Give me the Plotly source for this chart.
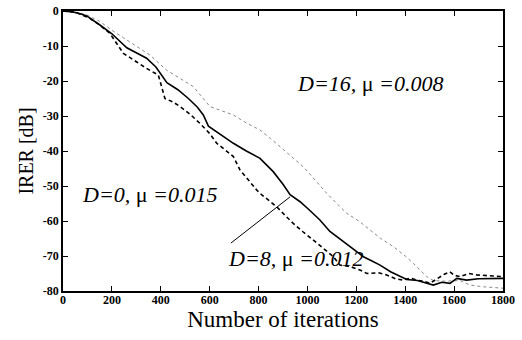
import plotly.graph_objects as go

# D=8, mu=0.012 (solid)
x_d8 = [0, 40, 70, 97, 151, 200, 261, 300, 342, 380, 410, 425, 470, 513, 550, 574, 595, 650, 697, 750,
        806, 860, 900, 929, 970, 1010, 1051, 1092, 1130, 1174, 1229, 1260, 1297, 1340, 1379, 1406, 1450,
        1488, 1515, 1550, 1583, 1611, 1651, 1700, 1761, 1800]
y_d8 = [0, -0.3, -0.8, -1.4, -4, -6.5, -10.5, -12, -13.5, -16, -18.8, -20.5, -22.5, -25, -27.5, -29.7,
        -32.9, -35.5, -37.8, -40, -42.1, -45.9, -49.5, -52.5, -54.5, -57, -59.7, -63, -65, -67.3, -70.2,
        -71.3, -72.6, -74.5, -75.9, -76.7, -77, -77.8, -78.3, -77.5, -77.8, -76.4, -76.9, -76.5, -76.4, -76.4]

# D=0, mu=0.015 (dashed)
x_d0 = [0, 50, 110, 150, 192, 247, 300, 342, 390, 404, 417, 450, 479, 520, 560, 600, 629, 660, 697, 724,
        760, 792, 806, 840, 874, 910, 942, 980, 1024, 1060, 1106, 1133, 1174, 1215, 1243, 1290, 1324, 1360,
        1392, 1420, 1447, 1475, 1501, 1520, 1542, 1560, 1583, 1600, 1624, 1660, 1692, 1740, 1800]
y_d0 = [0, -0.3, -2.1, -4, -6.4, -12.1, -14.5, -16.4, -18.3, -21.6, -25, -26, -27.3, -29.5, -32.1, -35,
        -37.8, -39.5, -41.6, -45.4, -48.5, -51.1, -52.1, -54, -55.9, -58.5, -60.7, -63, -65.4, -67.5, -70.2,
        -72.6, -73, -74, -75, -74.8, -75.4, -76.5, -76.9, -76.3, -76.9, -77.2, -77.8, -77, -75.9, -75.2,
        -74.5, -75.5, -75.9, -75, -75.4, -75.6, -75.9]

# D=16, mu=0.008 (dotted)
x_d16 = [0, 50, 97, 151, 200, 261, 310, 356, 424, 480, 533, 601, 650, 697, 750, 806, 850, 900, 983, 1040,
         1079, 1120, 1161, 1210, 1256, 1300, 1351, 1400, 1433, 1470, 1488, 1515, 1560, 1624, 1665, 1720, 1800]
y_d16 = [0, -0.3, -1.1, -3, -5.5, -8.3, -10.5, -12.6, -16.9, -19.2, -21.6, -27.3, -28.5, -29.7, -32, -34,
         -36.5, -39.5, -44.5, -49, -52.1, -55, -57.8, -60, -62.6, -65, -67.3, -70, -72.1, -74.5, -75.9, -77,
         -77.2, -77, -78.3, -78.8, -79.2]

x_ticks = [0, 200, 400, 600, 800, 1000, 1200, 1400, 1600, 1800]
y_ticks = [0, -10, -20, -30, -40, -50, -60, -70, -80]

labels = ["<i>D=16,</i> μ <i>=0.008</i>", "<i>D=0,</i> μ <i>=0.015</i>", "<i>D=8,</i> μ <i>=0.012</i>"]
label_x = [1255, 352, 953]
label_y = [-20.6, -52.3, -70.6]
pointer_x = [687, 929]
pointer_y = [-66.3, -53.1]

FONT = "Liberation Serif, Times New Roman, serif"

fig = go.Figure()
fig.add_trace(go.Scatter(x=x_d16, y=y_d16, mode="lines",
                         line=dict(color="#888888", width=1, dash="dot"), showlegend=False))
fig.add_trace(go.Scatter(x=x_d0, y=y_d0, mode="lines",
                         line=dict(color="black", width=1.6, dash="4px,3px"), showlegend=False))
fig.add_trace(go.Scatter(x=x_d8, y=y_d8, mode="lines",
                         line=dict(color="black", width=1.6), showlegend=False))

fig.add_shape(type="line", xref="x", yref="y", x0=pointer_x[0], y0=pointer_y[0],
              x1=pointer_x[1], y1=pointer_y[1], line=dict(color="black", width=1))

for t, ax_, ay_ in zip(labels, label_x, label_y):
    fig.add_annotation(x=ax_, y=ay_, xref="x", yref="y", text=t, showarrow=False,
                       font=dict(family=FONT, size=22, color="black"))

axis_common = dict(showline=True, linecolor="black", linewidth=1.5, mirror="ticks",
                   ticks="inside", ticklen=5, tickwidth=1.2, tickcolor="black",
                   showgrid=False, zeroline=False, automargin=False, ticklabeloverflow="allow",
                   tickfont=dict(family=FONT, size=12, color="black"))

fig.update_xaxes(range=[0, 1800], tickvals=x_ticks, ticktext=["<b>%d</b>" % v for v in x_ticks],
                 ticklabelstandoff=-3,
                 title=dict(text="Number of iterations", font=dict(family=FONT, size=23, color="black"),
                            standoff=2), **axis_common)
fig.update_yaxes(range=[-80, 0], tickvals=y_ticks, ticktext=["<b>%d</b>" % v for v in y_ticks],
                 title=dict(text="IRER [dB]", font=dict(family=FONT, size=20, color="black"),
                            standoff=4), **axis_common)

fig.update_layout(width=522, height=340, margin=dict(l=63, r=19, t=11, b=49),
                  paper_bgcolor="white", plot_bgcolor="white")

# remove the default 8px page margin so the figure fills the window exactly
fig.write_html("out.html", config={"displayModeBar": False},
               post_script="document.body.style.margin='0';")
